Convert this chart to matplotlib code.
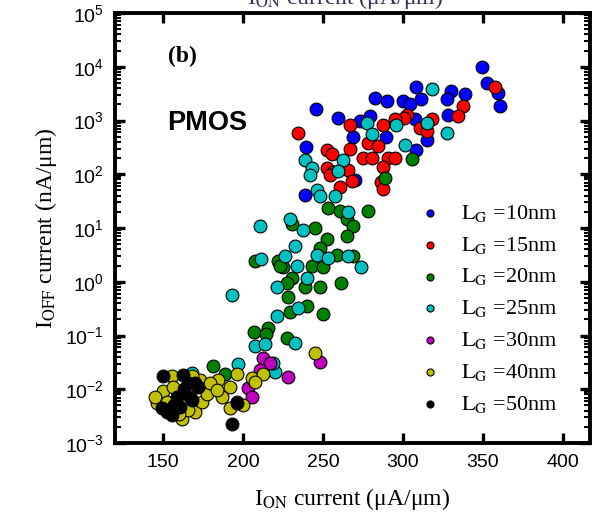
import matplotlib
matplotlib.use("Agg")
import matplotlib.pyplot as plt
import numpy as np

plt.rcParams['font.family'] = ['Liberation Sans', 'DejaVu Sans']
plt.rcParams['mathtext.fontset'] = 'stix'

# I_ON (uA/um) and I_OFF (nA/um), one pair of lists per gate length
ion_10 = [349.6, 352.3, 359.6, 360.6, 245.4, 259.6, 282.5, 289.8, 308.5, 300.2, 304.4, 311.6, 330.4,
          338.7, 327.3, 328.3, 279.4, 273.1, 268.9, 289.4, 314.8, 308.5, 239.3, 238.7, 307.5, 270.0]
ioff_10 = [9800, 4900, 3200, 1860, 1620, 1120, 2630, 2290, 4170, 2290, 2000, 2510, 3470,
           3090, 2510, 1260, 1200, 980, 500, 500, 440, 280, 320, 42, 1050, 78]

ion_15 = [357.5, 337.7, 334.6, 234.6, 266.9, 287.7, 302.3, 300.5, 295.0, 317.9, 310.6, 314.8, 252.3,
          255.4, 266.9, 278.3, 284.6, 275.2, 280.4, 290.8, 295.0, 287.7, 252.3, 256.4, 254.4, 265.8,
          267.9, 260.6, 286.6, 287.7]
ioff_15 = [4170, 1860, 1200, 590, 830, 830, 1290, 1120, 1050, 1050, 720, 630, 280,
           240, 300, 380, 330, 200, 200, 200, 200, 138, 129, 110, 95, 120,
           74, 58, 71, 54]

ion_20 = [305.4, 288.7, 253.3, 260.6, 264.8, 268.9, 264.8, 278.3, 245.0, 252.3, 248.1, 258.5, 242.9,
          250.2, 225.2, 230.4, 238.7, 248.1, 261.6, 228.3, 239.8, 250.2, 268.9, 230.4, 207.5, 222.0,
          223.1, 227.3, 229.4, 215.8, 206.9, 214.4, 227.3, 181.4, 188.7]
ioff_20 = [190, 85, 24, 21, 14.5, 11, 7.1, 21, 10.2, 6.3, 4.3, 3.2, 2.0,
           1.9, 1.9, 1.15, 0.79, 0.79, 0.93, 0.52, 0.36, 0.25, 3.0, 12, 2.4, 2.4,
           2.0, 0.93, 0.27, 0.14, 0.115, 0.105, 0.091, 0.027, 0.019]

ion_25 = [317.9, 277.3, 295.6, 314.8, 327.3, 281.0, 301.2, 238.7, 242.9, 241.9, 262.7, 259.6, 246.4,
          248.1, 257.5, 265.8, 229.4, 237.7, 232.5, 226.2, 233.5, 246.0, 253.3, 265.8, 274.1, 239.8,
          234.6, 210.6, 211.2, 221.0, 192.9, 221.0, 207.5, 213.7, 232.5, 220.0, 197.1, 167.9, 219.0]
ioff_25 = [3800, 890, 810, 910, 590, 560, 355, 182, 129, 95, 182, 115, 50,
           40, 40, 20, 14.5, 9.3, 4.6, 3.0, 2.0, 3.2, 2.75, 3.0, 1.9, 1.15,
           0.32, 11, 2.6, 0.81, 0.56, 0.23, 0.063, 0.069, 0.074, 0.021, 0.029, 0.020, 0.031]

ion_30 = [212.7, 216.9, 228.3, 210.6, 203.4, 205.4, 248.0, 207.0]
ioff_30 = [0.038, 0.031, 0.017, 0.023, 0.0105, 0.0072, 0.032, 0.014]

ion_40 = [244.9, 196.0, 205.4, 212.7, 173.1, 184.6, 207.5, 179.4, 191.9, 186.7, 196.1, 200.2, 191.9,
          155.4, 168.0, 150.2, 146.1, 145.0, 161.7, 170.0, 174.2, 177.3, 179.4, 183.6, 152.3, 165.9,
          156.5, 160.0]
ioff_40 = [0.048, 0.019, 0.016, 0.019, 0.015, 0.015, 0.0138, 0.0105, 0.0112, 0.0072, 0.0059, 0.005, 0.0044,
           0.0174, 0.0174, 0.0091, 0.0055, 0.0072, 0.0028, 0.0038, 0.0059, 0.0083, 0.0129, 0.0098, 0.0059, 0.0041,
           0.0112, 0.0035]

ion_50 = [193.0, 196.1, 150.2, 162.7, 170.0, 149.2, 155.4, 160.6, 166.9, 158.6, 172.1, 165.9, 152.3,
          157.0, 163.0, 168.0]
ioff_50 = [0.0023, 0.0055, 0.0174, 0.0186, 0.0129, 0.0044, 0.0033, 0.0047, 0.0072, 0.0072, 0.0112, 0.0129, 0.0038,
           0.005, 0.01, 0.0063]

labels = ['10', '15', '20', '25', '30', '40', '50']
colors = ['#0000ff', '#ff0000', '#008000', '#00c0c0', '#c000c0', '#c0c000', '#000000']
series = [(ion_10, ioff_10), (ion_15, ioff_15), (ion_20, ioff_20), (ion_25, ioff_25),
          (ion_30, ioff_30), (ion_40, ioff_40), (ion_50, ioff_50)]

fig = plt.figure(figsize=(6.0, 5.19), dpi=100)
ax = fig.add_axes([115 / 600, (519 - 443) / 519, 475 / 600, 430 / 519])

for (x, y), lab, col in zip(series, labels, colors):
    ax.scatter(x, y, s=85, c=col, edgecolors='black', linewidths=0.8,
               label=r'$\mathrm{L_G}$ =' + lab + 'nm', zorder=3)

ax.set_yscale('log')
ax.set_xlim(120, 417)
ax.set_ylim(1e-3, 1e5)
ax.set_xticks([150, 200, 250, 300, 350, 400])
ax.set_yticks([1e-3, 1e-2, 1e-1, 1e0, 1e1, 1e2, 1e3, 1e4, 1e5])
ax.yaxis.set_minor_locator(matplotlib.ticker.LogLocator(base=10, subs=np.arange(2, 10), numticks=20))
ax.yaxis.set_minor_formatter(matplotlib.ticker.NullFormatter())

for s in ax.spines.values():
    s.set_linewidth(2.8)
ax.tick_params(which='major', direction='in', length=7, width=2.4, top=True, right=True,
               labelsize=14, pad=8)
ax.tick_params(which='minor', direction='in', length=4, width=1.5, top=True, right=True)

ax.set_xlabel(r'I$_\mathrm{ON}$ current (μA/μm)', family='Liberation Serif', fontsize=17, labelpad=11)
ax.set_ylabel(r'I$_\mathrm{OFF}$ current (nA/μm)', family='Liberation Serif', fontsize=17, labelpad=4)

ax.text(0.143, 0.90, '(b)', transform=ax.transAxes, family='Liberation Serif',
        fontweight='bold', fontsize=17, ha='center', va='center')
ax.text(0.110, 0.745, 'PMOS', transform=ax.transAxes, fontweight='bold', fontsize=19.5,
        ha='left', va='center')

leg = ax.legend(loc='upper left', bbox_to_anchor=(0.645, 0.559), frameon=False,
                prop={'family': 'Liberation Serif', 'size': 16}, markerscale=0.55,
                handlelength=0.8, handletextpad=1.0, labelspacing=0.49, borderpad=0,
                borderaxespad=0)

# label of the panel above, cut by the top edge
fig.text(345 / 600, 1 - 4 / 519, r'I$_\mathrm{ON}$ current (μA/μm)', family='Liberation Serif',
         fontsize=17, ha='center', va='baseline', color='#333355')

fig.savefig('out.png', dpi=100)
